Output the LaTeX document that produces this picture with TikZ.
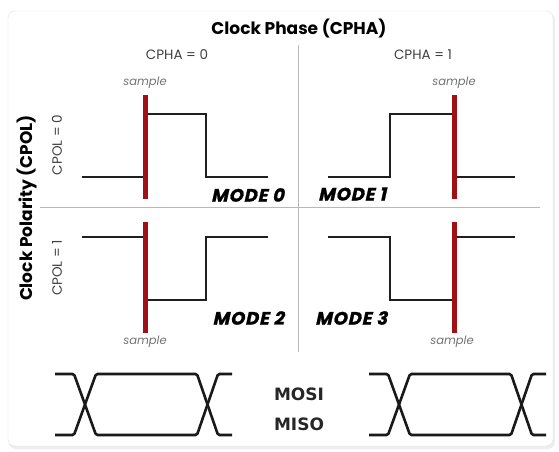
\documentclass[tikz,border=0pt]{standalone}
\usepackage{fontspec}
\setmainfont{Poppins}
\newfontfamily\modefont{Poppins}[FakeSlant=0.22, FakeBold=1.2, LetterSpace=5]
\newfontfamily\busfont{DejaVu Sans}
\usetikzlibrary{
    positioning % For label positioning
}
\definecolor{barred}{RGB}{160,16,20}

\begin{document}
\begin{tikzpicture}[
    x=1pt, y=-1pt, % pixel-like coordinates, y pointing down
    wave/.style={line width=2.6pt, black!88}, % Clock waveforms
    samplebar/.style={line width=5pt, barred}, % Red sampling edges
    divider/.style={line width=0.8pt, black!28}, % Grid lines
    headlabel/.style={font=\bfseries\fontsize{17}{20}\selectfont},
    samplelabel/.style={font=\itshape\fontsize{11.5}{13}\selectfont, text=black!55},
    cphalabel/.style={font=\fontsize{13.5}{16}\selectfont, text=black!75},
    modelabel/.style={font=\modefont\bfseries\fontsize{18}{21}\selectfont, inner sep=0pt},
    buslabel/.style={font=\busfont\bfseries\fontsize{17}{20}\selectfont, text=black!85},
    eye/.style={line width=2.6pt, black!90, rounded corners=1.5pt}
]
    \useasboundingbox (0,0) rectangle (559,452);

    % Card with a soft shadow
    \fill[black!7, rounded corners=7pt] (9,13) rectangle (555,449);
    \draw[black!12, fill=white, rounded corners=7pt] (8,11) rectangle (553,446);

    % Headings
    \node[headlabel] (title) at (299,29) {Clock Phase (CPHA)};
    \node[cphalabel] (cpha0) at (177,55) {CPHA = 0};
    \node[cphalabel] (cpha1) at (423,55) {CPHA = 1};
    \node[headlabel, rotate=90] (cpol) at (27,208) {Clock Polarity (CPOL)};
    \node[cphalabel, rotate=90] (cpol0) at (57,145) {CPOL = 0};
    \node[cphalabel, rotate=90] (cpol1) at (57,268) {CPOL = 1};

    % Grid lines
    \draw[divider] (298,45) -- (298,352);
    \draw[divider] (40,207) -- (540,207);

    % Mode 0
    \draw[wave] (82,177) -- (144,177) -- (144,114) -- (206,114) -- (206,177) -- (268,177);
    % Mode 1
    \draw[wave] (328,177) -- (390,177) -- (390,114) -- (453,114) -- (453,177) -- (515,177);
    % Mode 2
    \draw[wave] (82,237) -- (144,237) -- (144,300) -- (206,300) -- (206,237) -- (268,237);
    % Mode 3
    \draw[wave] (328,237) -- (390,237) -- (390,300) -- (453,300) -- (453,237) -- (515,237);

    % Sampling edges
    \draw[samplebar] (145,95) -- (145,199);
    \draw[samplebar] (145,222) -- (145,333);
    \draw[samplebar] (454,95) -- (454,199);
    \draw[samplebar] (454,222) -- (454,333);
    \node[samplelabel] (s0) at (145,83) {sample};
    \node[samplelabel] (s1) at (454,83) {sample};
    \node[samplelabel] (s2) at (145,342) {sample};
    \node[samplelabel] (s3) at (452,342) {sample};

    % Mode names
    \node[modelabel, anchor=east] (m0) at (284,195) {MODE 0};
    \node[modelabel, anchor=west] (m1) at (318,194) {MODE 1};
    \node[modelabel, anchor=east] (m2) at (284,318) {MODE 2};
    \node[modelabel, anchor=west] (m3) at (315,318) {MODE 3};

    % Data lines
    \foreach \ex in {55,369}{
        \begin{scope}[xshift=\ex]
            \draw[eye] (0,374) -- (19,374) -- (41,435) -- (142,435) -- (163,374) -- (177,374);
            \draw[eye] (0,435) -- (19,435) -- (41,374) -- (142,374) -- (163,435) -- (177,435);
        \end{scope}
    }
    \node[buslabel] (mosi) at (299,394) {MOSI};
    \node[buslabel] (miso) at (299,424) {MISO};

\end{tikzpicture}
\end{document}
